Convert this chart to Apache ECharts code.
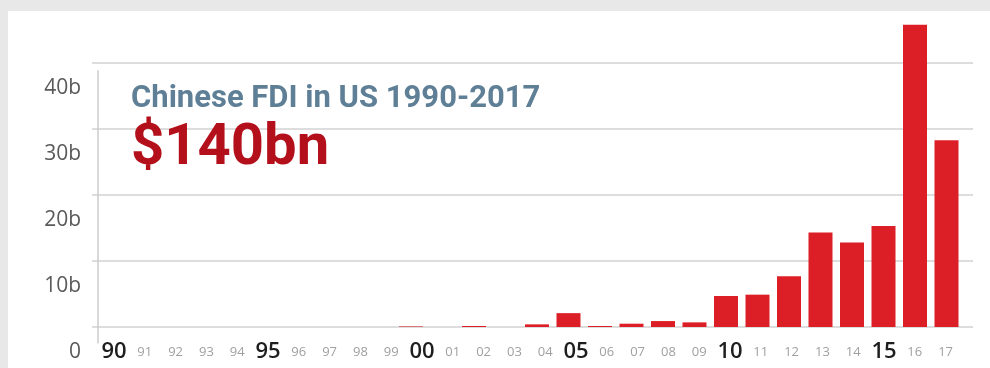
<!DOCTYPE html>
<html>
<head>
<meta charset="utf-8">
<script src="https://cdn.jsdelivr.net/npm/echarts@6/dist/echarts.min.js"></script>
<style>
  html, body { margin: 0; padding: 0; background: #e8e8e8; }
  #chart { position: absolute; left: 8px; top: 11px; width: 982px; height: 357px; background: #ffffff; }
</style>
</head>
<body>
<div id="chart"></div>
<script>
// Chinese foreign direct investment in the US, by year (US$ billions)
const years = ['90','91','92','93','94','95','96','97','98','99',
               '00','01','02','03','04','05','06','07','08','09',
               '10','11','12','13','14','15','16','17'];
const fdi = [0, 0, 0, 0, 0, 0, 0, 0, 0, 0,
             0.08, 0, 0.15, 0, 0.4, 2.1, 0.15, 0.5, 0.9, 0.7,
             4.7, 4.9, 7.7, 14.3, 12.8, 15.3, 45.8, 28.3];
const majorYears = ['90', '95', '00', '05', '10', '15'];
const yTickLabels = ['0', '10b', '20b', '30b', '40b'];

const chart = echarts.init(document.getElementById('chart'), null, { renderer: 'canvas' });

const hidden = { show: false };

chart.setOption({
  animation: false,
  title: [
    {
      text: 'Chinese FDI in US 1990-2017',
      left: 123, top: 73, padding: 0,
      textStyle: { fontFamily: 'Roboto, sans-serif', fontWeight: 'bold', fontSize: 31, color: '#5f7f96' }
    },
    {
      text: '$140bn',
      left: 123, top: 109, padding: 0,
      textStyle: { fontFamily: 'Roboto, sans-serif', fontWeight: 'bold', fontSize: 58, color: '#b3101b' }
    }
  ],
  grid: [
    // value gridlines and y labels
    { left: 84, right: 17, top: 52, bottom: 41 },
    // bars
    { left: 72.25, right: 27.75, top: 52, bottom: 41 },
    // year labels and vertical axis line
    { left: 90.6, right: 29, top: 59.7, bottom: 25 }
  ],
  xAxis: [
    { gridIndex: 0, type: 'value', show: false },
    { gridIndex: 1, type: 'category', data: years, show: false },
    {
      gridIndex: 2, type: 'category', data: years,
      axisLine: hidden, axisTick: hidden, splitLine: hidden,
      axisLabel: {
        interval: 0, margin: 0,
        formatter: v => majorYears.includes(v) ? '{big|' + v + '}' : '{small|' + v + '}',
        rich: {
          big: { fontFamily: '"Open Sans", sans-serif', fontSize: 22, fontWeight: 600, color: '#1e1e1e', lineHeight: 18, verticalAlign: 'middle' },
          small: { fontFamily: '"Open Sans", sans-serif', fontSize: 13, color: '#a0a0a0', lineHeight: 18, verticalAlign: 'middle' }
        }
      }
    }
  ],
  yAxis: [
    {
      gridIndex: 0, type: 'value', min: 0, max: 40, interval: 10,
      axisLine: hidden, axisTick: hidden,
      splitLine: { show: true, lineStyle: { color: '#d2d2d2', width: 1.5 } },
      axisLabel: {
        margin: 11, verticalAlign: 'top', padding: [15, 0, 0, 0],
        fontFamily: '"Open Sans", sans-serif', fontSize: 21, color: '#5a5a5a',
        formatter: v => yTickLabels[Math.round(v / 10)]
      }
    },
    { gridIndex: 1, type: 'value', min: 0, max: 40, show: false },
    {
      gridIndex: 2, type: 'value', offset: 1,
      axisLine: { show: true, lineStyle: { color: '#cccccc', width: 1.5 } },
      axisTick: hidden, axisLabel: hidden, splitLine: hidden
    }
  ],
  series: [
    {
      type: 'bar',
      xAxisIndex: 1, yAxisIndex: 1,
      data: fdi,
      barWidth: 24,
      clip: false,
      itemStyle: { color: '#dc1f26' }
    }
  ]
});
</script>
</body>
</html>
